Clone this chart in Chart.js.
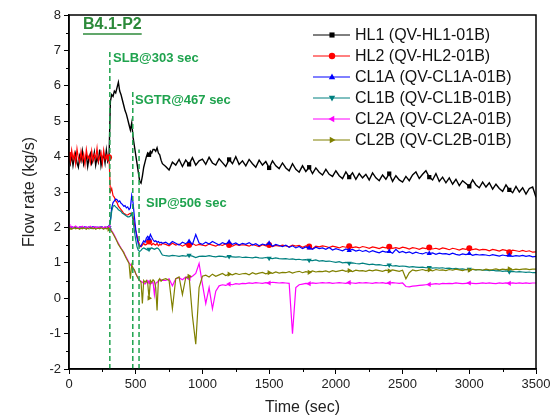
<!DOCTYPE html>
<html>
<head>
<meta charset="utf-8">
<script src="https://cdn.jsdelivr.net/npm/chart.js@4/dist/chart.umd.min.js"></script>
<style>
  html, body { margin: 0; padding: 0; background: #fff; }
  canvas { display: block; }
</style>
</head>
<body>
<canvas id="flow-chart" width="557" height="417"></canvas>
<script>
// time axis (sec)
const timeSec = [
  0,10,20,30,40,50,60,70,80,90,100,110,120,130,140,150,160,170,180,190,200,210,220,230,240,250,260,270,280,290,300,
  310,320,330,340,350,360,370,380,390,400,410,420,430,440,450,460,470,480,490,500,
  510,520,530,540,550,560,570,580,590,600,610,620,630,640,650,660,670,680,690,700,
  725,750,775,800,825,850,875,900,925,950,975,1000,
  1025,1050,1075,1100,1125,1150,1175,1200,1225,1250,1275,1300,
  1325,1350,1375,1400,1425,1450,1475,1500,1525,1550,1575,1600,
  1625,1650,1675,1700,1725,1750,1775,1800,1825,1850,1875,1900,
  1925,1950,1975,2000,2025,2050,2075,2100,2125,2150,2175,2200,
  2225,2250,2275,2300,2325,2350,2375,2400,2425,2450,2475,2500,
  2525,2550,2575,2600,2625,2650,2675,2700,2725,2750,2775,2800,
  2825,2850,2875,2900,2925,2950,2975,3000,3025,3050,3075,3100,
  3125,3150,3175,3200,3225,3250,3275,3300,3325,3350,3375,3400,
  3425,3450,3475,3500
];

const hl1 = [
  3.95,3.80,4.05,3.75,3.98,4.10,3.82,3.70,4.02,3.88,4.15,3.78,3.92,4.05,3.72,3.96,4.08,3.80,3.90,4.12,3.76,3.98,3.85,4.20,3.74,3.94,4.06,3.82,4.18,3.86,3.95,
  5.55,5.75,5.70,5.85,5.80,5.95,6.10,5.85,5.75,5.60,
  5.45,5.30,5.20,5.05,4.90,4.75,4.95,4.55,4.30,4.05,
  3.80,3.55,3.30,3.25,3.45,3.70,3.85,4.00,4.10,4.05,
  4.15,4.10,4.20,4.20,4.15,4.25,4.10,4.05,3.90,3.80,
  3.72,3.62,3.84,3.76,3.92,3.72,3.90,3.78,3.97,3.76,3.88,3.93,
  3.78,3.98,3.82,3.76,3.94,3.83,3.72,3.92,3.80,4.00,3.78,3.88,
  3.74,3.92,3.80,3.70,3.90,3.76,3.86,3.68,3.88,3.74,3.66,3.82,
  3.68,3.60,3.80,3.64,3.56,3.74,3.58,3.70,3.52,3.68,3.56,3.48,
  3.64,3.50,3.44,3.60,3.46,3.38,3.57,3.42,3.54,3.36,3.52,3.40,
  3.50,3.34,3.54,3.40,3.32,3.48,3.36,3.52,3.30,3.46,3.34,3.28,
  3.44,3.32,3.48,3.57,3.38,3.50,3.60,3.42,3.34,3.52,3.30,3.42,
  3.26,3.40,3.22,3.36,3.18,3.32,3.24,3.16,3.34,3.20,3.12,3.28,
  3.14,3.26,3.08,3.22,3.10,3.02,3.20,3.06,2.98,3.16,3.00,3.12,
  2.94,3.10,3.14,2.85
];

const hl2 = [
  4.05,3.85,4.18,3.92,4.10,3.80,4.22,3.96,3.84,4.15,3.90,4.08,3.78,4.20,3.95,4.02,3.82,4.16,3.88,4.06,3.94,4.24,3.86,4.00,4.12,3.80,4.18,3.92,4.04,3.90,3.98,
  3.00,3.10,2.90,2.85,2.75,2.70,2.60,2.55,2.50,2.45,
  2.40,2.38,2.35,2.35,2.38,2.40,2.35,2.30,2.10,1.90,
  1.75,1.60,1.50,1.45,1.50,1.55,1.50,1.52,1.55,1.60,
  1.55,1.50,1.55,1.52,1.50,1.55,1.48,1.52,1.50,1.55,
  1.52,1.48,1.55,1.50,1.53,1.47,1.52,1.50,1.55,1.49,1.52,1.50,
  1.48,1.53,1.50,1.47,1.52,1.49,1.54,1.50,1.47,1.52,1.49,1.51,
  1.50,1.47,1.52,1.49,1.46,1.51,1.48,1.50,1.46,1.49,1.47,1.50,
  1.48,1.45,1.50,1.47,1.49,1.44,1.48,1.46,1.40,1.47,1.45,1.48,
  1.46,1.43,1.47,1.45,1.42,1.46,1.44,1.47,1.43,1.45,1.42,1.46,
  1.44,1.41,1.45,1.43,1.40,1.44,1.42,1.45,1.41,1.43,1.40,1.44,
  1.42,1.39,1.43,1.41,1.38,1.42,1.40,1.43,1.39,1.41,1.38,1.42,
  1.40,1.37,1.41,1.39,1.36,1.40,1.38,1.41,1.37,1.39,1.36,1.38,
  1.37,1.34,1.38,1.36,1.33,1.37,1.35,1.30,1.36,1.34,1.32,1.35,
  1.32,1.34,1.30,1.31
];

const cl1a = [
  2.00,1.98,2.02,2.00,1.99,2.01,2.00,1.98,2.02,2.01,1.99,2.00,2.02,1.98,2.00,2.01,1.99,2.00,2.02,2.00,1.98,2.01,2.00,1.99,2.02,2.00,1.98,2.01,2.00,1.99,2.00,
  2.20,2.55,2.70,2.75,2.80,2.78,2.72,2.75,2.68,2.65,
  2.60,2.62,2.55,2.58,2.50,2.55,2.90,2.70,2.30,1.95,
  1.70,1.52,1.45,1.48,1.55,1.62,1.58,1.70,1.75,1.68,
  1.80,1.72,1.65,1.60,1.62,1.58,1.60,1.56,1.58,1.55,
  1.58,1.52,1.60,1.55,1.50,1.58,1.54,1.60,1.52,1.80,1.56,1.52,
  1.58,1.53,1.60,1.55,1.50,1.57,1.53,1.59,1.52,1.56,1.50,1.55,
  1.52,1.57,1.50,1.54,1.48,1.53,1.50,1.55,1.47,1.52,1.49,1.46,
  1.50,1.44,1.48,1.42,1.46,1.40,1.45,1.42,1.38,1.44,1.40,1.42,
  1.38,1.43,1.36,1.40,1.37,1.34,1.39,1.35,1.38,1.33,1.36,1.32,
  1.35,1.30,1.34,1.31,1.28,1.33,1.30,1.32,1.27,1.38,1.29,1.32,
  1.28,1.31,1.26,1.30,1.27,1.25,1.29,1.26,1.28,1.24,1.27,1.25,
  1.26,1.23,1.27,1.24,1.22,1.25,1.23,1.26,1.21,1.24,1.22,1.23,
  1.22,1.20,1.23,1.21,1.19,1.22,1.20,1.21,1.18,1.20,1.19,1.21,
  1.18,1.20,1.17,1.18
];

const cl1b = [
  1.98,2.00,1.97,1.99,2.01,1.98,2.00,1.99,1.97,2.00,2.01,1.98,1.99,2.00,1.98,2.01,1.99,1.97,2.00,1.98,2.01,1.99,2.00,1.98,1.99,2.01,1.98,2.00,1.99,1.98,2.00,
  2.15,2.45,2.60,2.62,2.58,2.55,2.50,2.48,2.45,2.40,
  2.38,2.35,2.32,2.30,2.30,2.32,2.40,2.20,1.90,1.65,
  1.45,1.35,1.32,1.35,1.40,1.42,1.40,1.38,1.36,1.38,
  1.40,1.42,1.40,1.38,1.40,1.42,1.40,1.35,1.28,1.22,
  1.20,1.19,1.21,1.20,1.18,1.20,1.19,1.21,1.19,1.15,1.18,1.19,
  1.18,1.20,1.18,1.17,1.19,1.18,1.16,1.18,1.17,1.16,1.17,1.15,
  1.16,1.15,1.14,1.16,1.14,1.13,1.15,1.13,1.12,1.14,1.12,1.11,
  1.12,1.10,1.11,1.09,1.10,1.08,1.09,1.07,1.06,1.08,1.05,1.06,
  1.04,1.05,1.03,1.01,1.03,1.00,1.01,0.99,1.00,0.98,0.97,0.99,
  0.97,0.95,0.96,0.94,0.95,0.93,0.92,0.94,0.91,0.92,0.90,0.91,
  0.90,0.88,0.89,0.88,0.87,0.88,0.86,0.87,0.85,0.86,0.85,0.86,
  0.84,0.85,0.83,0.84,0.82,0.83,0.81,0.82,0.81,0.80,0.81,0.79,
  0.80,0.78,0.79,0.77,0.78,0.76,0.77,0.75,0.76,0.74,0.75,0.74,
  0.73,0.74,0.72,0.72
];

const cl2a = [
  2.02,2.00,2.03,1.99,2.01,2.04,2.00,1.98,2.02,2.01,2.03,1.99,2.00,2.02,1.98,2.01,2.03,2.00,1.99,2.02,2.00,2.01,1.98,2.02,2.00,2.01,1.99,2.02,2.00,1.98,2.00,
  1.95,1.90,1.85,1.78,1.70,1.62,1.55,1.48,1.42,1.35,
  1.30,1.22,1.15,1.08,1.00,0.95,0.90,0.85,0.78,0.70,
  0.62,0.55,0.50,0.48,0.45,0.42,0.40,0.45,0.50,0.45,
  0.40,0.42,0.45,0.10,0.42,0.45,0.48,0.50,0.52,0.50,
  0.50,0.55,0.35,0.55,0.58,0.52,0.60,0.56,0.62,0.70,0.98,0.40,
  -0.15,0.30,-0.30,0.20,0.35,0.38,0.36,0.40,0.38,0.41,0.40,0.42,
  0.41,0.43,0.42,0.44,0.43,0.42,0.44,0.43,0.45,0.44,0.43,0.44,
  0.43,0.42,-1.00,0.30,0.38,0.40,0.42,0.41,0.43,0.42,0.43,0.44,
  0.43,0.44,0.42,0.43,0.44,0.43,0.42,0.44,0.43,0.42,0.44,0.43,
  0.44,0.43,0.42,0.44,0.43,0.44,0.42,0.43,0.44,0.43,0.42,0.43,
  0.33,0.32,0.34,0.35,0.36,0.37,0.38,0.39,0.40,0.41,0.40,0.42,
  0.41,0.42,0.41,0.43,0.42,0.41,0.42,0.43,0.42,0.41,0.42,0.43,
  0.42,0.43,0.42,0.41,0.43,0.42,0.43,0.42,0.43,0.42,0.43,0.42,
  0.43,0.42,0.43,0.43
];

const cl2b = [
  1.96,1.98,1.95,1.97,1.99,1.96,1.98,1.97,1.95,1.98,1.96,1.99,1.97,1.95,1.98,1.96,1.97,1.99,1.96,1.98,1.95,1.97,1.98,1.96,1.99,1.97,1.95,1.98,1.96,1.97,1.95,
  1.92,1.88,1.82,1.75,1.68,1.60,1.52,1.46,1.40,1.35,
  1.28,1.20,1.12,1.05,0.98,0.55,0.95,0.85,0.80,0.70,
  0.62,0.55,0.50,0.45,-0.15,0.50,0.45,0.50,0.42,0.00,
  0.50,0.45,0.52,0.48,0.30,-0.35,0.50,0.55,0.48,0.52,
  0.55,0.50,-0.30,0.55,0.60,0.10,0.58,0.62,-0.50,-1.30,0.30,0.62,
  0.65,0.60,0.68,0.62,0.66,0.70,0.64,0.68,0.66,0.70,0.67,0.69,
  0.70,0.66,0.72,0.68,0.71,0.73,0.69,0.72,0.70,0.74,0.71,0.73,
  0.72,0.75,0.71,0.74,0.76,0.72,0.75,0.73,0.77,0.74,0.76,0.75,
  0.77,0.74,0.78,0.75,0.77,0.79,0.76,0.78,0.75,0.79,0.77,0.78,
  0.76,0.79,0.77,0.80,0.78,0.76,0.79,0.77,0.80,0.78,0.76,0.79,
  0.55,0.72,0.80,0.77,0.79,0.81,0.78,0.80,0.77,0.81,0.79,0.80,
  0.78,0.81,0.79,0.82,0.80,0.78,0.81,0.79,0.82,0.80,0.81,0.79,
  0.82,0.80,0.81,0.83,0.80,0.82,0.81,0.83,0.80,0.82,0.81,0.82,
  0.83,0.81,0.82,0.82
];

// marker positions (Origin-style sparse symbols)
const markerTimes = [0, 300, 600, 900, 1200, 1500, 1800, 2100, 2400, 2700, 3000, 3300];

const seriesNames = ['HL1 (QV-HL1-01B)', 'HL2 (QV-HL2-01B)', 'CL1A (QV-CL1A-01B)',
                     'CL1B (QV-CL1B-01B)', 'CL2A (QV-CL2A-01B)', 'CL2B (QV-CL2B-01B)'];
const seriesValues = [hl1, hl2, cl1a, cl1b, cl2a, cl2b];
const seriesColors = ['#000000', '#ff0000', '#0000ff', '#008080', '#ff00ff', '#808000'];
const seriesStyles = ['rect', 'circle', 'triangle', 'triangle', 'triangle', 'triangle'];
const seriesRotation = [0, 0, 0, 180, 270, 90];

// event markers
const eventTimes = [306, 478, 525];
const eventTops = [7.0, 5.85, 4.2];
const eventLabels = ['SLB@303 sec', 'SGTR@467 sec', 'SIP@506 sec'];
const eventLabelX = [330, 495, 577];
const eventLabelY = [6.78, 5.6, 2.69];

const FONT = "'Liberation Sans', Arial, sans-serif";
const GREEN = '#1fa34e';

function drawMarker(ctx, style, rot, x, y, r, color) {
    ctx.save();
    ctx.translate(x, y);
    ctx.rotate(rot * Math.PI / 180);
    ctx.fillStyle = color;
    ctx.beginPath();
    if (style === 'rect') {
        ctx.rect(-r * 0.8, -r * 0.8, r * 1.6, r * 1.6);
    } else if (style === 'circle') {
        ctx.arc(0, 0, r, 0, Math.PI * 2);
    } else {
        ctx.moveTo(0, -r * 1.1);
        ctx.lineTo(r, r * 0.7);
        ctx.lineTo(-r, r * 0.7);
        ctx.closePath();
    }
    ctx.fill();
    ctx.restore();
}

const decorPlugin = {
    id: 'decor',
    afterDraw(chart) {
        const ctx = chart.ctx;
        const { left, right, top, bottom } = chart.chartArea;
        const xs = chart.scales.x, ys = chart.scales.y;
        ctx.save();

        // frame
        ctx.strokeStyle = '#000';
        ctx.lineWidth = 1.5;
        ctx.strokeRect(left, top, right - left, bottom - top);

        // minor ticks
        ctx.lineWidth = 1;
        ctx.beginPath();
        for (let t = 250; t < 3500; t += 500) {
            const px = Math.round(xs.getPixelForValue(t)) + 0.5;
            ctx.moveTo(px, bottom);
            ctx.lineTo(px, bottom + 3);
        }
        for (let v = -1.5; v < 8; v += 1) {
            const py = Math.round(ys.getPixelForValue(v)) + 0.5;
            ctx.moveTo(left, py);
            ctx.lineTo(left - 3, py);
        }
        ctx.stroke();

        // event labels
        ctx.fillStyle = GREEN;
        ctx.font = 'bold 13px ' + FONT;
        ctx.textBaseline = 'middle';
        ctx.textAlign = 'left';
        eventLabels.forEach((txt, i) => {
            ctx.fillText(txt, xs.getPixelForValue(eventLabelX[i]), ys.getPixelForValue(eventLabelY[i]));
        });

        // case tag
        ctx.fillStyle = '#2c8a3a';
        ctx.font = 'bold 16px ' + FONT;
        const tx = xs.getPixelForValue(105), ty = ys.getPixelForValue(7.72);
        ctx.fillText('B4.1-P2', tx, ty);
        const w = ctx.measureText('B4.1-P2').width;
        ctx.strokeStyle = '#2c8a3a';
        ctx.lineWidth = 1.5;
        ctx.beginPath();
        ctx.moveTo(tx, ty + 9);
        ctx.lineTo(tx + w, ty + 9);
        ctx.stroke();

        // legend
        ctx.font = '16px ' + FONT;
        seriesNames.forEach((name, i) => {
            const y = top + 20 + i * 21;
            const x0 = right - 223;
            ctx.strokeStyle = seriesColors[i];
            ctx.lineWidth = 1;
            ctx.beginPath();
            ctx.moveTo(x0, y);
            ctx.lineTo(x0 + 37, y);
            ctx.stroke();
            drawMarker(ctx, seriesStyles[i], seriesRotation[i], x0 + 19, y, 3.2, seriesColors[i]);
            ctx.fillStyle = '#111';
            ctx.fillText(name, x0 + 42, y + 1);
        });
        ctx.restore();
    }
};

const datasets = seriesValues.map((vals, i) => ({
    label: seriesNames[i],
    data: timeSec.map((t, k) => ({ x: t, y: vals[k] })),
    borderColor: seriesColors[i],
    backgroundColor: seriesColors[i],
    borderWidth: i === 0 ? 1.4 : 1.2,
    pointStyle: seriesStyles[i],
    rotation: seriesRotation[i],
    pointBorderWidth: 0,
    pointRadius: ctx => markerTimes.includes(timeSec[ctx.dataIndex]) ? 3 : 0,
    tension: 0,
    order: 6 - i
}));

eventTimes.forEach((t, i) => {
    datasets.push({
        label: eventLabels[i],
        data: [{ x: t, y: -2 }, { x: t, y: eventTops[i] }],
        borderColor: GREEN,
        borderWidth: 1.5,
        borderDash: [5, 3],
        pointRadius: 0,
        order: 0
    });
});

new Chart(document.getElementById('flow-chart'), {
    type: 'line',
    data: { datasets },
    options: {
        responsive: false,
        animation: false,
        parsing: false,
        layout: { padding: { top: 15, right: 21, left: 0, bottom: 0 } },
        plugins: { legend: { display: false }, tooltip: { enabled: false } },
        scales: {
            x: {
                type: 'linear',
                min: 0,
                max: 3500,
                ticks: {
                    stepSize: 500, color: '#222', font: { size: 13, family: FONT }, padding: 3, maxRotation: 0,
                    callback: v => String(v)
                },
                grid: { drawOnChartArea: false, tickLength: 5, tickColor: '#000', tickWidth: 1 },
                border: { color: '#000', width: 1.5 },
                title: { display: true, text: 'Time (sec)', color: '#222', font: { size: 16, family: FONT }, padding: { top: 1.5, bottom: 0 } },
                afterFit: s => { s.height = 48; }
            },
            y: {
                min: -2,
                max: 8,
                ticks: { stepSize: 1, color: '#222', font: { size: 13, family: FONT }, padding: 3 },
                grid: { drawOnChartArea: false, tickLength: 5, tickColor: '#000', tickWidth: 1 },
                border: { color: '#000', width: 1.5 },
                title: { display: true, text: 'Flow rate (kg/s)', color: '#222', font: { size: 16, family: FONT }, padding: { top: 20, bottom: 0 } },
                afterFit: s => { s.width = 69; }
            }
        }
    },
    plugins: [decorPlugin]
});
</script>
</body>
</html>
